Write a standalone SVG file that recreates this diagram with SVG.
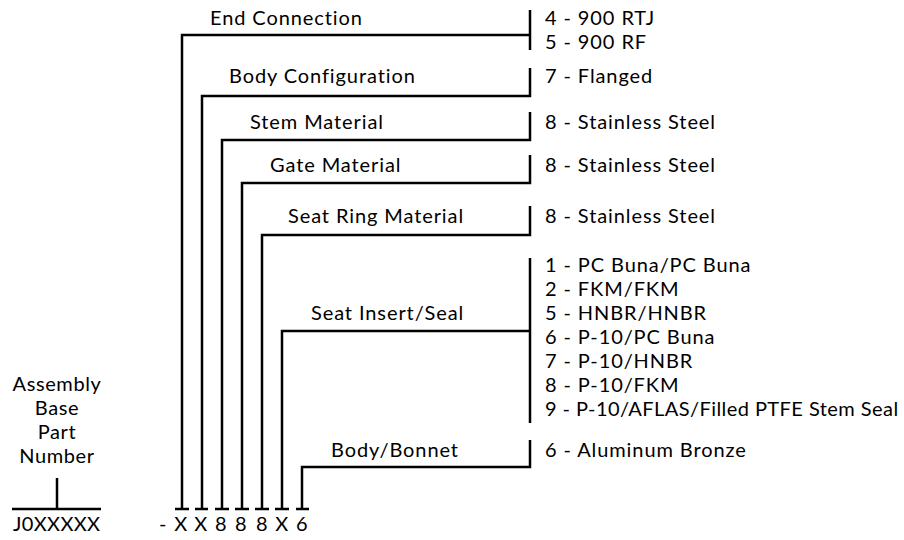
<svg xmlns="http://www.w3.org/2000/svg" width="904" height="540" viewBox="0 0 904 540">
<style>
text{font-family:Lato,"Open Sans","Liberation Sans",sans-serif;font-size:20px;letter-spacing:0.9px;fill:#000}
.c{text-anchor:middle;letter-spacing:0.6px}
.ln{fill:none;stroke:#000;stroke-width:2.5}
</style>
<rect width="904" height="540" fill="#fff"/>
<g id="connectors" class="ln">
<path d="M182 509V35H530"/><path d="M530 10V50"/>
<path d="M202 509V96H530V68"/>
<path d="M222 509V140H530V112"/>
<path d="M242 509V183H530V155"/>
<path d="M262 509V235H530V206"/>
<path d="M282 509V331H530"/><path d="M530 258V423"/>
<path d="M302 509V467H530V440"/>
<path d="M175 509H189M195 509H208M215 509H229M235 509H249M255 509H269M275 509H289M296 509H309"/>
<path d="M12 509H101M57 478V509"/>
</g>
<g id="base"><text class="c" x="57" y="391">Assembly</text><text class="c" x="57" y="415">Base</text><text class="c" x="57" y="439">Part</text><text class="c" x="57" y="463">Number</text><text x="13" y="531" textLength="88" lengthAdjust="spacing">J0XXXXX</text></g>
<g id="code"><text class="c" x="163 172 181 191 201 211 221 231 241 251 262 272 282 292 302" y="531">- X X 8 8 8 X 6</text></g>
<g id="end-connection"><text x="210" y="25">End Connection</text><text x="545" y="25">4 - 900 RTJ</text><text x="545" y="49">5 - 900 RF</text></g>
<g id="body-configuration"><text x="229" y="83">Body Configuration</text><text x="545" y="83">7 - Flanged</text></g>
<g id="stem-material"><text x="250" y="129">Stem Material</text><text x="545" y="129">8 - Stainless Steel</text></g>
<g id="gate-material"><text x="270" y="172">Gate Material</text><text x="545" y="172">8 - Stainless Steel</text></g>
<g id="seat-ring-material"><text x="288" y="223">Seat Ring Material</text><text x="545" y="223">8 - Stainless Steel</text></g>
<g id="seat-insert-seal"><text x="311" y="320">Seat Insert/Seal</text>
<text x="545" y="272">1 - PC Buna/PC Buna</text><text x="545" y="296">2 - FKM/FKM</text><text x="545" y="320">5 - HNBR/HNBR</text><text x="545" y="344">6 - P-10/PC Buna</text><text x="545" y="368">7 - P-10/HNBR</text><text x="545" y="392">8 - P-10/FKM</text><text x="545" y="416" textLength="354" lengthAdjust="spacing">9 - P-10/AFLAS/Filled PTFE Stem Seal</text></g>
<g id="body-bonnet"><text x="331" y="457">Body/Bonnet</text><text x="545" y="457">6 - Aluminum Bronze</text></g>
</svg>
